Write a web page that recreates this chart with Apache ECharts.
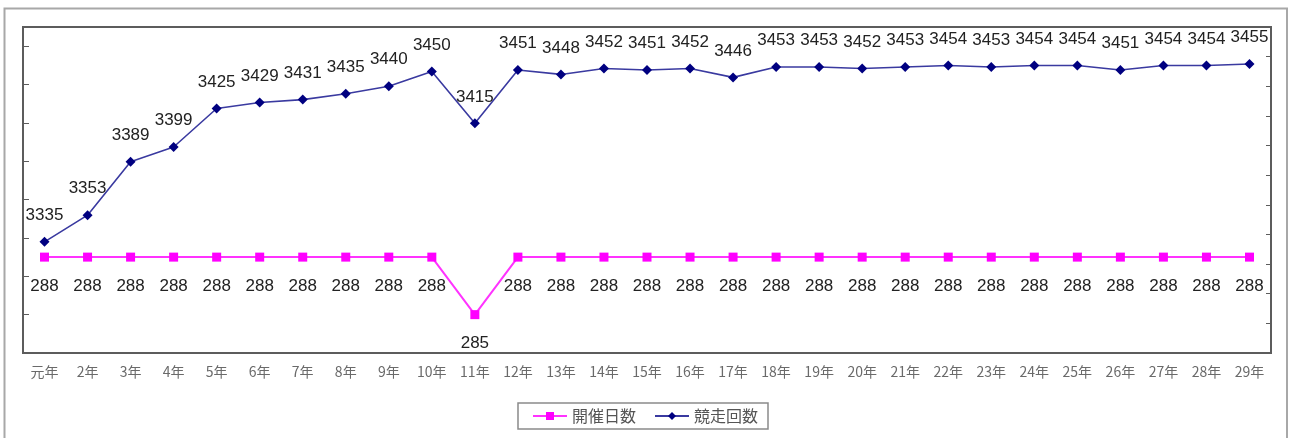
<!DOCTYPE html>
<html>
<head>
<meta charset="utf-8">
<script src="https://cdn.jsdelivr.net/npm/echarts@6/dist/echarts.min.js"></script>
<style>
  html, body { margin: 0; padding: 0; background: #fff; }
  #chart { width: 1290px; height: 438px; }
</style>
</head>
<body>
<div id="chart"></div>
<script>
// Fiscal years (Heisei 元年 .. 29年)
const years = ['元年','2年','3年','4年','5年','6年','7年','8年','9年','10年',
  '11年','12年','13年','14年','15年','16年','17年','18年','19年','20年',
  '21年','22年','23年','24年','25年','26年','27年','28年','29年'];

// 開催日数 (meeting days)
const meetingDays = [288,288,288,288,288,288,288,288,288,288,
  285,288,288,288,288,288,288,288,288,288,
  288,288,288,288,288,288,288,288,288];

// 競走回数 (number of races)
const raceCount = [3335,3353,3389,3399,3425,3429,3431,3435,3440,3450,
  3415,3451,3448,3452,3451,3452,3446,3453,3453,3452,
  3453,3454,3453,3454,3454,3451,3454,3454,3455];

// Left axis tick marks (odd day counts)
const dayTicks = [285,287,289,291,293,295,297,299];

const chart = echarts.init(document.getElementById('chart'), null, { renderer: 'canvas' });

const labelFont = 'Liberation Sans, Arial, sans-serif';
const cjkFont = '"Noto Sans CJK JP", sans-serif';

chart.setOption({
  animation: false,
  backgroundColor: '#ffffff',
  graphic: [{
    type: 'rect',
    shape: { x: 4.5, y: 8.5, width: 1282.5, height: 445 },
    style: { fill: 'none', stroke: '#a8a8a8', lineWidth: 2 },
    silent: true
  }],
  grid: {
    left: 23, right: 19, top: 27, bottom: 85,
    show: true, borderColor: '#5c5c5c', borderWidth: 2,
    containLabel: false
  },
  legend: {
    top: 403,
    left: 'center',
    data: ['開催日数', '競走回数'],
    itemWidth: 34,
    itemHeight: 10,
    itemGap: 18,
    padding: [5, 10, 5, 14],
    borderColor: '#8a8a8a',
    borderWidth: 1.5,
    textStyle: { fontFamily: cjkFont, fontSize: 16, color: '#555' }
  },
  xAxis: {
    type: 'category',
    data: years,
    boundaryGap: true,
    axisLine: { lineStyle: { color: '#5c5c5c', width: 2 } },
    axisTick: { inside: true, length: 5, lineStyle: { color: '#5c5c5c' } },
    axisLabel: { color: '#6a6a6a', fontFamily: cjkFont, fontSize: 14, margin: 12, interval: 0 }
  },
  yAxis: [{
    type: 'value',
    min: 283,
    max: 300,
    position: 'left',
    axisLine: { show: true, lineStyle: { color: '#5c5c5c', width: 2 } },
    axisTick: { show: true, inside: true, length: 6, customValues: dayTicks, lineStyle: { color: '#5c5c5c' } },
    axisLabel: { show: false },
    splitLine: { show: false }
  }, {
    type: 'value',
    min: 3260,
    max: 3480,
    interval: 20,
    position: 'right',
    axisLine: { show: true, lineStyle: { color: '#5c5c5c', width: 2 } },
    axisTick: { show: true, inside: true, length: 5, lineStyle: { color: '#5c5c5c' } },
    axisLabel: { show: false },
    splitLine: { show: false }
  }],
  series: [{
    name: '開催日数',
    type: 'line',
    yAxisIndex: 0,
    data: meetingDays,
    symbol: 'rect',
    symbolSize: 9,
    itemStyle: { color: '#ff00ff' },
    lineStyle: { color: '#ff33ff', width: 2 },
    label: {
      show: true, position: 'bottom', distance: 16,
      fontFamily: labelFont, fontSize: 17, color: '#222'
    },
    z: 3
  }, {
    name: '競走回数',
    type: 'line',
    yAxisIndex: 1,
    data: raceCount,
    symbol: 'diamond',
    symbolSize: 10,
    itemStyle: { color: '#000080' },
    lineStyle: { color: '#3a3aa0', width: 1.6 },
    label: {
      show: true, position: 'top', distance: 13,
      fontFamily: labelFont, fontSize: 17, color: '#222'
    },
    z: 4
  }]
});
</script>
</body>
</html>
